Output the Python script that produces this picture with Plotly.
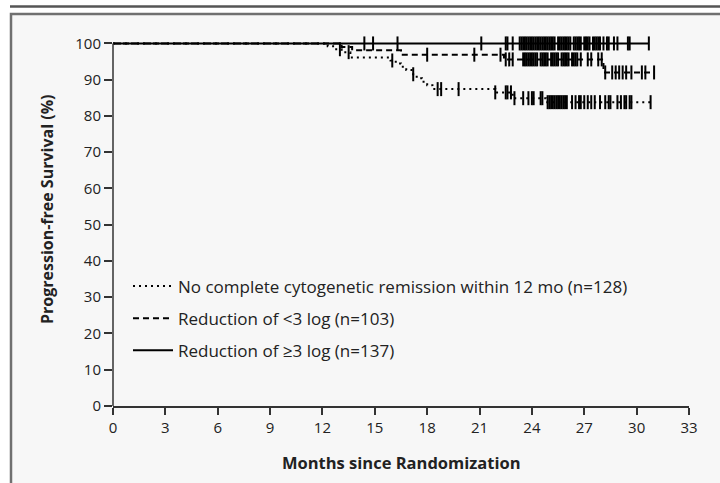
import plotly.graph_objects as go

# ---------------- data ----------------
# Kaplan-Meier step curves: time (months) where the step starts, survival (%) after it
dotted_t = [0, 12.3, 12.7, 13.1, 13.6, 15.9, 16.2, 16.5, 16.8, 17.1, 17.4, 17.7, 18.0, 18.3, 21.9, 22.9, 24.8, 30.8]
dotted_s = [100, 99.2, 98.4, 97.6, 96.1, 95.3, 94.5, 93.6, 92.7, 91.5, 90.4, 89.4, 88.5, 87.4, 86.5, 84.9, 83.8, 83.8]
dotted_cens = [13.0, 13.5, 16.0, 17.2, 18.6, 18.8, 19.8, 21.9, 22.5, 22.6, 22.8, 23.0, 23.5, 23.8,
               24.0, 24.1, 24.5, 24.6, 24.9, 25.0, 25.1, 25.2, 25.3, 25.4, 25.5, 25.6, 25.7, 25.8,
               25.9, 26.0, 26.3, 26.5, 26.7, 26.8, 27.0, 27.2, 27.4, 27.6, 27.9, 28.2, 28.4, 28.5,
               28.9, 29.1, 29.3, 29.4, 29.6, 29.7, 30.8]

dashed_t = [0, 13.1, 13.7, 16.5, 22.4, 28.1, 31.0]
dashed_s = [100, 99.0, 98.1, 96.9, 95.6, 92.0, 92.0]
dashed_cens = [18.0, 20.7, 22.2, 22.5, 22.7, 22.9, 23.5, 23.6, 23.7, 23.8, 23.9, 24.0, 24.1, 24.2,
               24.3, 24.5, 24.6, 24.7, 24.8, 24.9, 25.1, 25.2, 25.3, 25.4, 25.5, 25.7, 25.8, 25.9,
               26.0, 26.1, 26.3, 26.4, 26.5, 26.6, 26.8, 27.2, 27.4, 27.8, 28.0, 28.2, 28.6, 28.8,
               29.0, 29.2, 29.4, 29.7, 30.3, 30.5, 31.0]

solid_t = [0, 30.7]
solid_s = [100, 100]
solid_cens = [14.4, 14.9, 16.3, 21.1, 22.5, 22.6, 22.9, 23.3, 23.4, 23.5, 23.6, 23.7, 23.8, 23.9,
              24.0, 24.1, 24.2, 24.3, 24.4, 24.5, 24.6, 24.7, 24.8, 24.9, 25.0, 25.1, 25.2, 25.3,
              25.5, 25.6, 25.7, 25.8, 25.9, 26.0, 26.1, 26.2, 26.4, 26.5, 26.6, 26.7, 26.8, 27.0,
              27.1, 27.2, 27.3, 27.5, 27.6, 27.7, 27.8, 27.9, 28.1, 28.3, 28.4, 28.7, 28.9, 29.5,
              29.6, 30.7]

names = ["No complete cytogenetic remission within 12 mo (n=128)",
         "Reduction of <3 log (n=103)",
         "Reduction of \u22653 log (n=137)"]

x_ticks = [0, 3, 6, 9, 12, 15, 18, 21, 24, 27, 30, 33]
y_ticks = [0, 10, 20, 30, 40, 50, 60, 70, 80, 90, 100]

# ---------------- layout constants ----------------
W, H = 720, 483
L, R, T, B = 113, 31, 38, 77
PW, PH = W - L - R, H - T - B
YMAX = 101.5
FONT = "Open Sans"
TXT = "#222222"


def xp(px):
    return (px - L) / PW


def yp(py):
    return (H - B - py) / PH


def surv_at(ts, ss, t):
    v = ss[0]
    for ti, si in zip(ts, ss):
        if ti <= t:
            v = si
    return v


fig = go.Figure()

series = [
    (dotted_t, dotted_s, dotted_cens, "2px,4px"),
    (dashed_t, dashed_s, dashed_cens, "6px,4px"),
    (solid_t, solid_s, solid_cens, "solid"),
]

for i, (ts, ss, cens, dash) in enumerate(series):
    fig.add_trace(go.Scatter(
        x=ts, y=ss, mode="lines", name=names[i],
        line=dict(color="black", width=2, dash=dash, shape="hv"),
        legendgroup=f"g{i}", showlegend=True, hoverinfo="skip",
    ))
    fig.add_trace(go.Scatter(
        x=cens, y=[surv_at(ts, ss, c) for c in cens], mode="markers",
        marker=dict(symbol="line-ns", size=10, color="black",
                    line=dict(color="black", width=2)),
        legendgroup=f"g{i}", showlegend=False, cliponaxis=False, hoverinfo="skip",
    ))

shapes = [
    # outer box
    dict(type="rect", xref="paper", yref="paper", layer="below",
         x0=xp(11), x1=xp(735), y0=yp(500), y1=yp(14),
         fillcolor="#f7f7f7", line=dict(color="#707070", width=2.5)),
    # top rule
    dict(type="line", xref="paper", yref="paper", layer="below",
         x0=xp(10), x1=xp(720), y0=yp(6.5), y1=yp(6.5),
         line=dict(color="#555555", width=2.5)),
    # y axis line (0 .. 100)
    dict(type="line", xref="paper", yref="paper", layer="above",
         x0=0, x1=0, y0=0, y1=y_ticks[-1] / YMAX,
         line=dict(color="#333333", width=1.5)),
]

fig.update_layout(
    width=W, height=H, autosize=False,
    margin=dict(l=L, r=R, t=T, b=B, pad=0),
    paper_bgcolor="white", plot_bgcolor="#f7f7f7",
    font=dict(family=FONT, size=15, color=TXT),
    shapes=shapes,
    showlegend=True,
    legend=dict(x=xp(128), y=yp(268.5), xanchor="left", yanchor="top",
                traceorder="grouped", tracegroupgap=7, itemwidth=40,
                bgcolor="rgba(0,0,0,0)", font=dict(family=FONT, size=17, color=TXT)),
    xaxis=dict(range=[0, 33], tickvals=x_ticks, ticktext=[str(v) for v in x_ticks],
               showgrid=False, zeroline=False, showline=True, linecolor="#333333", linewidth=1.5,
               ticks="outside", ticklen=7, tickwidth=1.5, tickcolor="#333333",
               tickfont=dict(family=FONT, size=15, color=TXT)),
    yaxis=dict(range=[0, YMAX], tickvals=y_ticks, ticktext=[str(v) for v in y_ticks],
               showgrid=False, zeroline=False, showline=False,
               ticks="outside", ticklen=8, tickwidth=1.5, tickcolor="#333333",
               tickfont=dict(family=FONT, size=15, color=TXT)),
    annotations=[
        dict(text="<b>Months since Randomization</b>", xref="paper", yref="paper",
             x=0.5, y=yp(462), xanchor="center", yanchor="middle", showarrow=False,
             font=dict(family=FONT, size=16.5, color=TXT)),
        dict(text="<b>Progression-free Survival (%)</b>", xref="paper", yref="paper",
             x=xp(47), y=yp(209), xanchor="center", yanchor="middle", showarrow=False,
             textangle=-90, font=dict(family=FONT, size=16, color=TXT)),
    ],
)

fig.write_html("out.html")
